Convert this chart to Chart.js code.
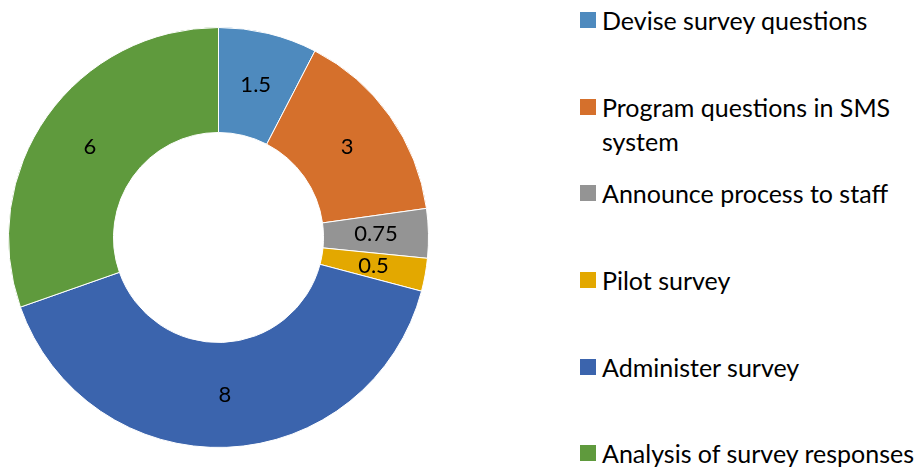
<!DOCTYPE html>
<html>
<head>
<meta charset="utf-8">
<script src="https://cdn.jsdelivr.net/npm/chart.js@4.4.1/dist/chart.umd.min.js"></script>
<style>
  html, body { margin: 0; padding: 0; background: #fff; }
  body { width: 922px; height: 469px; position: relative; overflow: hidden; font-family: Lato, sans-serif; }
  #wrap { position: absolute; left: 8px; top: 27px; width: 421px; height: 421px; }
  #legend { position: absolute; left: 580px; top: 0; }
  .item { position: absolute; left: 0; width: 342px; font-size: 25px; line-height: 34px; color: #000; padding-left: 22px; white-space: nowrap; }
  .item .box { position: absolute; left: 0; top: 9px; width: 16px; height: 16px; }
</style>
</head>
<body>
<div id="wrap"><canvas id="donut"></canvas></div>
<div id="legend"></div>
<script>
const tasks = ['Devise survey questions', 'Program questions in SMS system', 'Announce process to staff', 'Pilot survey', 'Administer survey', 'Analysis of survey responses'];
const legendLines = [['Devise survey questions'], ['Program questions in SMS', 'system'], ['Announce process to staff'], ['Pilot survey'], ['Administer survey'], ['Analysis of survey responses']];
const weeks = [1.5, 3, 0.75, 0.5, 8, 6];
const colors = ['#4E8ABE', '#D5702C', '#949494', '#E3A800', '#3B64AD', '#5F9A3D'];

// legend (html so the wrapped line matches)
const legendEl = document.getElementById('legend');
const legendTops = [3, 90, 176, 263, 350, 436];
tasks.forEach((t, i) => {
  const div = document.createElement('div');
  div.className = 'item';
  div.style.top = legendTops[i] + 'px';
  div.innerHTML = `<span class="box" style="background:${colors[i]}"></span>` + legendLines[i].join('<br>');
  legendEl.appendChild(div);
});

const valueLabels = {
  id: 'valueLabels',
  afterDatasetsDraw(chart) {
    const c = chart.ctx;
    const meta = chart.getDatasetMeta(0);
    c.save();
    c.font = '22px Lato, sans-serif';
    c.fillStyle = '#000';
    c.textAlign = 'center';
    c.textBaseline = 'middle';
    meta.data.forEach((arc, i) => {
      const p = arc.tooltipPosition();
      c.fillText(String(weeks[i]), p.x, p.y);
    });
    c.restore();
  }
};

new Chart(document.getElementById('donut'), {
  type: 'doughnut',
  data: {
    labels: tasks,
    datasets: [{
      data: weeks,
      backgroundColor: colors,
      borderColor: '#ffffff',
      borderWidth: 1
    }]
  },
  options: {
    responsive: true,
    maintainAspectRatio: false,
    animation: false,
    cutout: '50%',
    layout: { padding: 0 },
    plugins: {
      legend: { display: false },
      tooltip: { enabled: false }
    }
  },
  plugins: [valueLabels]
});
</script>
</body>
</html>
